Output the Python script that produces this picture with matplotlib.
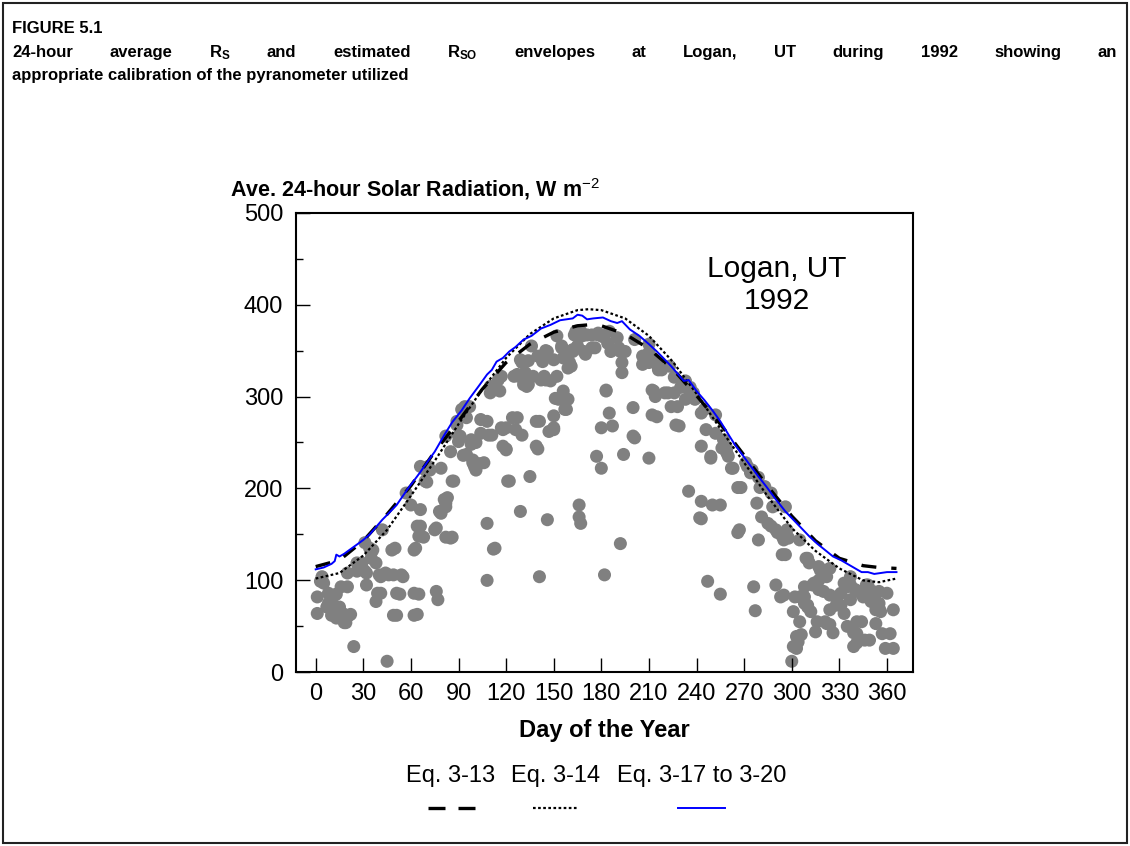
import numpy as np
import matplotlib
matplotlib.use("Agg")
import matplotlib.pyplot as plt
from matplotlib.lines import Line2D
from matplotlib.patches import Rectangle
from matplotlib.ticker import MultipleLocator

plt.rcParams['font.family'] = ['Liberation Sans', 'DejaVu Sans']
plt.rcParams['mathtext.fontset'] = 'custom'
plt.rcParams['mathtext.rm'] = 'Liberation Sans'
plt.rcParams['mathtext.bf'] = 'Liberation Sans:bold'
plt.rcParams['mathtext.it'] = 'Liberation Sans:italic'

#Daily 24-hour average Rs (day of year, W m-2)
rs_obs = [
    (1, 82), (1, 64), (3, 99), (4, 104), (5, 97), (7, 71), (8, 86), (8, 75), (9, 84), (10, 62),
    (11, 64), (11, 73), (12, 84), (13, 85), (13, 59), (15, 71), (15, 62), (16, 93), (17, 64), (18, 54),
    (19, 54), (20, 93), (20, 108), (21, 62), (22, 63), (24, 28), (26, 110), (26, 119), (29, 115), (29, 119),
    (31, 110), (31, 141), (32, 108), (32, 95), (34, 135), (35, 124), (35, 130), (36, 133), (38, 119), (38, 77),
    (39, 86), (40, 106), (41, 104), (41, 86), (42, 155), (44, 108), (45, 12), (46, 106), (48, 133), (49, 106),
    (49, 62), (50, 135), (51, 62), (51, 86), (53, 85), (54, 106), (55, 104), (57, 195), (60, 182), (62, 133),
    (62, 86), (62, 62), (63, 135), (64, 63), (65, 85), (64, 159), (65, 148), (66, 177), (66, 224), (66, 159),
    (68, 147), (69, 220), (69, 208), (70, 207), (71, 224), (72, 220),
    (75, 155), (76, 157), (76, 88), (77, 79), (78, 175), (79, 173), (79, 222), (81, 188), (82, 180), (82, 184),
    (82, 147), (82, 257), (83, 190), (85, 146), (85, 240), (86, 147), (86, 208), (87, 208), (89, 269), (89, 273),
    (90, 251), (90, 257), (91, 257), (92, 286), (93, 236), (94, 289), (95, 277), (95, 237), (97, 289), (98, 253),
    (98, 248), (99, 228), (99, 231), (100, 224), (101, 220), (101, 250), (103, 227), (104, 260), (104, 275), (106, 228),
    (108, 273), (108, 100), (108, 162), (109, 258), (110, 311), (110, 304), (111, 258), (112, 134), (112, 310), (113, 135),
    (115, 318), (116, 306), (117, 322), (117, 266), (118, 246), (118, 264), (120, 243), (120, 266), (120, 242), (121, 208),
    (122, 208), (124, 277), (125, 322), (126, 264), (127, 277), (127, 324), (128, 322), (129, 175), (129, 340), (130, 337),
    (130, 258), (131, 313), (132, 326), (133, 311), (134, 339), (134, 313), (135, 213), (136, 355), (137, 322), (139, 273),
    (139, 246), (140, 344), (140, 243), (141, 104), (141, 273), (142, 318), (143, 338), (144, 322), (145, 350), (145, 318),
    (146, 349), (146, 166), (147, 262), (148, 317),
    (150, 264), (150, 279), (150, 266), (150, 340), (151, 298), (152, 322), (152, 366), (153, 297), (155, 355), (155, 353),
    (156, 342), (156, 306), (157, 286), (158, 348), (158, 286), (159, 331), (159, 297), (160, 337), (161, 333), (162, 349),
    (162, 351), (163, 367), (164, 371), (165, 355), (166, 182), (166, 169), (167, 162), (167, 371), (168, 366), (169, 349),
    (170, 346), (171, 367), (174, 353), (174, 367), (176, 353), (177, 235), (178, 367), (178, 369), (179, 367), (180, 222),
    (180, 266), (181, 365),
    (182, 106), (183, 307), (183, 306), (184, 358), (185, 371), (185, 282), (186, 349), (187, 268), (190, 364), (191, 353),
    (192, 349), (192, 140), (193, 337), (193, 326), (194, 237), (195, 349), (200, 288), (200, 257), (201, 255), (201, 362),
    (206, 335), (206, 344), (209, 344), (210, 233), (210, 348), (210, 337), (210, 357), (212, 307), (212, 280), (213, 306),
    (214, 300), (214, 338), (215, 278), (215, 335), (216, 329),
    (218, 329), (220, 304), (222, 304), (223, 333), (224, 289), (226, 304), (226, 321), (227, 269), (228, 289), (229, 268),
    (230, 310), (233, 317), (233, 315), (233, 297), (235, 197), (236, 306), (236, 310), (238, 304), (239, 297), (242, 168),
    (243, 246), (243, 282), (243, 186), (243, 167), (245, 286), (246, 264), (247, 99), (249, 235), (249, 233), (250, 182),
    (252, 260), (252, 280), (255, 182), (255, 85), (256, 244), (257, 253), (259, 244), (259, 239), (260, 235),
    (262, 222), (263, 222), (266, 201), (266, 152), (267, 155), (268, 201), (271, 228), (272, 224), (274, 217), (275, 220),
    (276, 93), (277, 67), (278, 184), (279, 212), (279, 144), (280, 201), (281, 169), (283, 202), (285, 162), (287, 195),
    (287, 159), (288, 180), (290, 155), (290, 95), (291, 152), (293, 82), (294, 148), (294, 128), (295, 144), (295, 84),
    (296, 180), (296, 128), (297, 155), (298, 146), (300, 12),
    (301, 28), (301, 66), (302, 82), (303, 39), (303, 26), (304, 33), (305, 55), (305, 82), (305, 144), (306, 41),
    (308, 93), (308, 75), (308, 82), (309, 124), (310, 71), (310, 124), (310, 73), (311, 119), (312, 66), (313, 95),
    (314, 97), (315, 44), (316, 55), (317, 100), (317, 90), (317, 115), (318, 111), (320, 88), (321, 111), (321, 55),
    (322, 104), (322, 53), (324, 84), (324, 52), (324, 113), (324, 68), (326, 43), (328, 73), (328, 82), (331, 86),
    (331, 73), (333, 97), (333, 64), (335, 93), (335, 50), (337, 104), (337, 95), (337, 79), (339, 28), (339, 43),
    (340, 90), (341, 55), (341, 42), (341, 88), (341, 32), (344, 55), (345, 86), (345, 82), (346, 35), (347, 95),
    (348, 95), (349, 35), (350, 77), (351, 88), (353, 86), (353, 68), (353, 53), (355, 70), (355, 88), (355, 75),
    (356, 66), (357, 42), (359, 26), (360, 86), (362, 42), (364, 68), (364, 26),
]
obs_day = [d for d, _ in rs_obs]
obs_rs = [v for _, v in rs_obs]

#Clear-sky envelopes
env_day = [0, 15, 30, 45, 60, 75, 90, 105, 120, 135, 150, 165, 172, 180, 195,
           210, 225, 240, 255, 270, 285, 300, 315, 330, 345, 355, 366]
rso_313 = [115, 122, 143, 172, 203, 240, 273, 308, 337, 357, 370, 377, 378, 377, 368,
           352, 330, 301, 270, 236, 202, 170, 143, 124, 116, 114, 113]
rso_314 = [102, 108, 127, 155, 192, 230, 270, 308, 342, 368, 385, 394, 395, 394, 385,
           366, 338, 303, 265, 228, 191, 157, 132, 113, 100, 98, 102]

day_320 = [0, 5, 10, 12, 13, 15, 18, 22, 26, 30, 34, 38, 42, 46, 51, 55, 59, 63, 66, 70,
           75, 81, 86, 92, 97, 103, 108, 111, 114, 118, 122, 126, 131, 136, 142, 148, 154, 158, 162, 165,
           168, 171, 175, 181, 186, 190, 193, 198, 204, 210, 215, 219, 224, 229, 232, 235, 240, 245, 250, 255,
           260, 264, 267, 273, 279, 284, 290, 296, 301, 306, 311, 316, 321, 326, 331, 335, 340, 344, 348, 352,
           356, 360, 366]
rso_320 = [112, 114, 118, 121, 128, 126, 129, 134, 139, 144, 150, 158, 166, 173, 182, 192, 202, 211, 218, 228,
           240, 258, 272, 285, 298, 312, 324, 329, 338, 342, 349, 354, 362, 366, 374, 378, 383, 384, 385, 389,
           388, 384, 385, 386, 382, 380, 382, 373, 366, 357, 349, 342, 333, 323, 317, 318, 306, 296, 285, 273,
           259, 248, 241, 227, 213, 202, 188, 175, 166, 157, 148, 140, 133, 126, 122, 118, 113, 109, 109, 107,
           108, 109, 109]

legend_labels = ["Eq. 3-13", "Eq. 3-14", "Eq. 3-17 to 3-20"]

W, H = 1130, 846
fig = plt.figure(figsize=(W / 100, H / 100), dpi=100)

#Frame around the whole figure
fig.patches.append(Rectangle((0.003, 0.004), 0.994, 0.992, transform=fig.transFigure,
                             fill=False, edgecolor='#222222', linewidth=1.5))

#Caption, second line justified to the full width
fs_cap = 12
fig.text(12 / W, 1 - 33 / H, "FIGURE 5.1", fontsize=fs_cap, fontweight='bold', va='baseline')
words = ["24-hour", "average", r"R$_{\mathbf{S}}$", "and", "estimated", r"R$_{\mathbf{SO}}$",
         "envelopes", "at", "Logan,", "UT", "during", "1992", "showing", "an"]
x_left, x_right = 12 / W, 1117 / W
word_texts = [fig.text(x_left, 1 - 57 / H, w, fontsize=fs_cap, fontweight='bold', va='baseline')
              for w in words]
renderer = fig.canvas.get_renderer()
widths = [t.get_window_extent(renderer).width / fig.bbox.width for t in word_texts]
gap = (x_right - x_left - sum(widths)) / (len(words) - 1)
x = x_left
for t, w in zip(word_texts, widths):
    t.set_x(x)
    x += w + gap
fig.text(12 / W, 1 - 80 / H, "appropriate calibration of the pyranometer utilized",
         fontsize=fs_cap, fontweight='bold', va='baseline')

#Main axes
ax = fig.add_axes([295.7 / W, 1 - 672.3 / H, 617.6 / W, 459.6 / H])
ax.scatter(obs_day, obs_rs, s=88, color='#808080', edgecolors='none', zorder=1)
ax.plot(env_day, rso_313, color='black', linewidth=2.4, dashes=(4.5, 4.5), zorder=2)
ax.plot(env_day, rso_314, color='black', linewidth=1.6, dashes=(1.2, 1.1), zorder=3)
ax.plot(day_320, rso_320, color='#0000ff', linewidth=1.4, zorder=4)

ax.set_xlim(-12.6, 376.6)
ax.set_ylim(0, 500)
ax.xaxis.set_major_locator(MultipleLocator(30))
ax.yaxis.set_major_locator(MultipleLocator(100))
ax.yaxis.set_minor_locator(MultipleLocator(50))
ax.tick_params(which='both', direction='in', top=False, right=False, width=1.0)
ax.tick_params(which='major', length=10, labelsize=17)
ax.tick_params(axis='y', which='major', pad=9)
ax.tick_params(axis='x', which='major', pad=8)
ax.tick_params(which='minor', length=5)
for sp in ax.spines.values():
    sp.set_linewidth(1.5)

ax.text(0.779, 0.843, "Logan, UT\n1992", transform=ax.transAxes, fontsize=21.5,
        ha='center', va='center', multialignment='center')

fig.text(230 / W, 1 - 197 / H, r"Ave. 24-hour Solar Radiation, W m$^{\mathrm{-2}}$",
         fontsize=15.5, fontweight='bold', va='baseline')
fig.text(604.5 / W, 1 - 730 / H, "Day of the Year", fontsize=17, fontweight='bold',
         ha='center', va='center')

#Legend: labels on one row, line samples underneath
label_x = [451, 556, 702]
for lx, lab in zip(label_x, legend_labels):
    fig.text(lx / W, 1 - 776 / H, lab, fontsize=17, ha='center', va='center')
ly = 1 - 808 / H
fig.lines.append(Line2D([428 / W, 475 / W], [ly, ly], transform=fig.transFigure,
                        color='black', linewidth=2.4, dashes=(5.1, 3.9)))
fig.lines.append(Line2D([533 / W, 577 / W], [ly, ly], transform=fig.transFigure,
                        color='black', linewidth=1.6, dashes=(1.2, 1.1)))
fig.lines.append(Line2D([678 / W, 725 / W], [ly, ly], transform=fig.transFigure,
                        color='#0000ff', linewidth=1.4))

fig.savefig("out.png", dpi=100)
